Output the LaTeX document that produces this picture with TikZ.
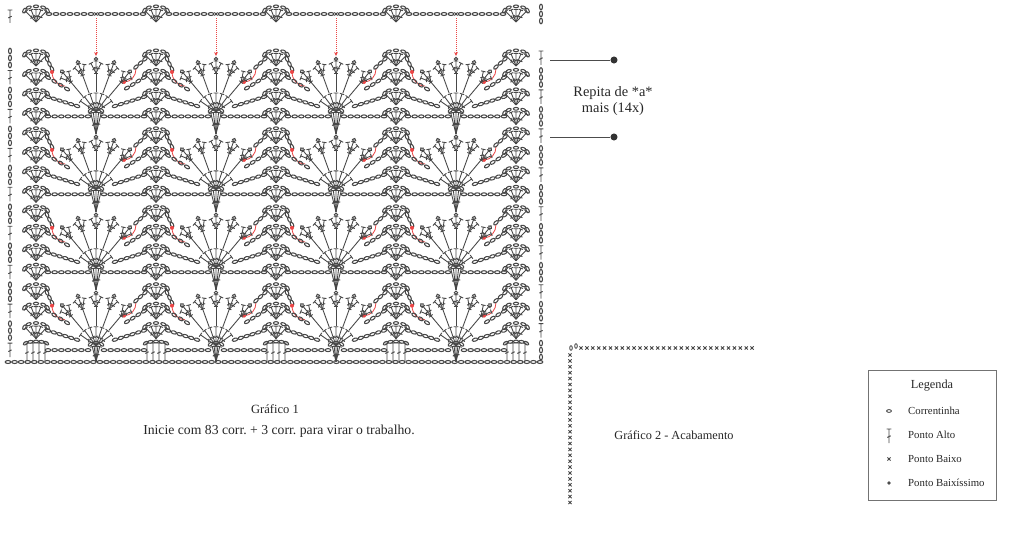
\documentclass[tikz,border=0pt]{standalone}
\usepackage{fontspec}
\setmainfont{Liberation Serif}
\usetikzlibrary{arrows.meta}
\definecolor{stred}{RGB}{236,70,70}
\frenchspacing
\newcommand\trst[4]{\begin{scope}[shift={(#1,#2)},rotate={#3-90}]
    \draw[stitch] (0,0) -- (0,#4) (-2.3,#4) -- (2.3,#4) (-1.7,{0.5*#4-1.4}) -- (1.7,{0.5*#4+0.2});
  \end{scope}}
\newcommand\xst[2]{\draw[stitch] (#1-1.6,#2-1.6) -- (#1+1.6,#2+1.6) (#1-1.6,#2+1.6) -- (#1+1.6,#2-1.6);}
\newcommand\chn[4]{%
  \pgfmathsetmacro\cdx{(#3)-(#1)}%
  \pgfmathsetmacro\cdy{(#4)-(#2)}%
  \pgfmathsetmacro\clen{veclen(\cdx,\cdy)}%
  \pgfmathtruncatemacro\cn{max(1,round(\clen/6.6))}%
  \pgfmathsetmacro\cang{atan2(\cdy,\cdx)}%
  \foreach \ci in {0,...,\cn}{%
    \draw[chain,shift={({#1+\ci/\cn*\cdx},{#2+\ci/\cn*\cdy})},rotate=\cang] (0,0) ellipse[x radius=2.8,y radius=1.5];}}
\newcommand\archn[5]{%
  \foreach \ct in {#5}{%
    \pgfmathsetmacro\cax{#1+#3*cos(\ct)}%
    \pgfmathsetmacro\cay{#2+#4*sin(\ct)}%
    \pgfmathsetmacro\caa{atan2(#4*cos(\ct),-#3*sin(\ct))}%
    \draw[chain,shift={(\cax,\cay)},rotate=\caa] (0,0) ellipse[x radius=2.6,y radius=1.4];}}
\newcommand\shellst[3]{\begin{scope}[shift={(#1,#2)}]
    \foreach \ta/\tl in {134/14.5,112/13,90/12.5,68/13,46/14.5}{\trst{0}{-10}{\ta}{\tl}}
    \archn{0}{0}{#3}{5.6}{165,127.5,90,52.5,15}
  \end{scope}}
\newcommand\conest[3]{\begin{scope}[shift={(#1,#2)}]
    \foreach \ta in {104,97,90,83,76}{\trst{0}{-#3}{\ta}{#3-0.5}}
    \archn{0}{0}{6.5}{3}{150,90,30}
  \end{scope}}
\newcommand\fanst[2]{\begin{scope}[shift={(#1,#2)}]
    \foreach \ta in {35,53,71.5,90,108.5,127,145}{\trst{0}{0}{\ta}{19}}
    \foreach \ta in {50,70,90,110,130}{
      \begin{scope}[rotate=\ta-90]
        \draw[stitch] (0,20) -- (0,39) (-2.2,39) -- (2.2,39);
        \trst{0}{39}{62}{11}\trst{0}{39}{90}{12}\trst{0}{39}{118}{11}
        \draw[chain] (0,53) circle[radius=1.7];
      \end{scope}}
  \end{scope}}
\begin{document}
\begin{tikzpicture}[x=0.03cm,y=0.03cm,
    stitch/.style={draw=black!72,line width=0.75pt},
    chain/.style={draw=black!72,line width=0.9pt},
    redln/.style={draw=stred,line width=0.7pt},
    reddot/.style={fill=stred},
    redarr/.style={draw=stred,densely dotted,line width=0.7pt,-{Stealth[length=3.5pt,width=3.2pt]}},
    repdot/.style={circle,fill=black!80,inner sep=0pt,minimum size=6pt},
    lbl/.style={text=black!85,inner sep=0pt}]
  \useasboundingbox (0,0) rectangle (1024,-536);

  \trst{10}{-23}{90}{13}
  \chn{541}{-7}{541}{-21}
  \foreach \cl in {0,...,4}{
    \pgfmathsetmacro\sx{36+120*\cl}
    \shellst{\sx}{-12}{12}
  }
  \foreach \cl in {0,...,3}{
    \pgfmathsetmacro\sx{36+120*\cl}
    \pgfmathsetmacro\fx{96+120*\cl}
    \chn{\sx+13}{-14}{\fx-5}{-14}
    \chn{\fx+5}{-14}{\sx+107}{-14}
    \xst{\fx}{-14}
    \coordinate (sc\cl) at (\fx,-18);
    \coordinate (pc\cl) at (\fx,-56);
    \draw[redarr] (sc\cl) -- (pc\cl);
  }

  \foreach \bk in {0,...,3}{
    \pgfmathsetmacro\yo{-(58+77.9*\bk)}
    \foreach \jr in {0,...,3}{
      \pgfmathsetmacro\yr{\yo-19.47*\jr}
      \pgfmathtruncatemacro\rw{4*\bk+\jr}
      \foreach \cl in {0,...,4}{
        \pgfmathsetmacro\sx{36+120*\cl}
        \ifnum\rw=15\relax
          \foreach \dd in {-9,-3,3,9}{\trst{\sx+\dd}{-361}{90}{18}}
          \archn{\sx}{-344}{11}{2.5}{160,120,90,60,20}
        \else
          \shellst{\sx}{\yr+2}{12}
        \fi
      }
      \ifodd\rw\relax
        \trst{10}{\yr-7}{90}{14}
        \chn{541}{\yr+7}{541}{\yr-7}
      \else
        \chn{10}{\yr+7}{10}{\yr-7}
        \trst{541}{\yr-7}{90}{14}
      \fi
    }
    \pgfmathsetmacro\cd{\bk==3 ? 16 : 22}
    \foreach \cl in {0,...,3}{
      \pgfmathsetmacro\sx{36+120*\cl}
      \pgfmathsetmacro\fx{96+120*\cl}
      \pgfmathsetmacro\sxn{156+120*\cl}
      \chn{\sx+11}{\yo-1}{\sx+16}{\yo-11}
      \draw[redln] (\sx+16,\yo-14) to[out=-90,in=180] (\fx-31,\yo-28);
      \fill[reddot] (\sx+16,\yo-14) circle[radius=2];
      \draw[redln] (\fx+28,\yo-24) to[out=0,in=-90] (\fx+40,\yo-11);
      \fill[reddot] (\fx+28,\yo-24) circle[radius=2];
      \chn{\fx+40}{\yo-9}{\sxn-11}{\yo-1}
      \chn{\sx+12}{\yo-19.5}{\fx-29}{\yo-31}
      \chn{\fx+31}{\yo-30}{\sxn-12}{\yo-19.5}
      \chn{\sx+12}{\yo-38.9}{\fx-19}{\yo-48}
      \chn{\fx+19}{\yo-48}{\sxn-12}{\yo-38.9}
      \chn{\sx+12}{\yo-58.4}{\fx-8}{\yo-58.4}
      \chn{\fx+8}{\yo-58.4}{\sxn-12}{\yo-58.4}
      \fanst{\fx}{\yo-54}
      \conest{\fx}{\yo-54}{\cd}
    }
  }
  \chn{8}{-362}{540}{-362}

  \coordinate (ra1) at (550,-60);
  \node[repdot] (rd1) at (614,-60) {};
  \draw[black!70,line width=0.7pt] (ra1) -- (rd1);
  \coordinate (ra2) at (550,-137);
  \node[repdot] (rd2) at (614,-137) {};
  \draw[black!70,line width=0.7pt] (ra2) -- (rd2);
  \node[lbl,align=center,font=\fontsize{12.3}{13}\selectfont] (rep) at (613,-101) {Repita de *a*\\mais (14x)};

  \node[lbl,font=\fontsize{10.7}{13}\selectfont] (graf1) at (275,-409) {Gráfico 1};
  \node[lbl,font=\fontsize{11.7}{14}\selectfont] (graf1n) at (279,-431) {Inicie com 83 corr. + 3 corr. para virar o trabalho.};

  \draw[stitch] (571,-348) ellipse[x radius=1.3,y radius=2.3];
  \draw[stitch] (576,-346) ellipse[x radius=1.3,y radius=2.3];
  \foreach \ci in {0,...,29}{\xst{581+5.9*\ci}{-348}}
  \foreach \ci in {0,...,25}{\xst{570}{-355-5.9*\ci}}
  \node[lbl,font=\fontsize{10.5}{12}\selectfont] (graf2) at (674,-435) {Gráfico 2 - Acabamento};

  \draw[black!55,line width=0.5pt] (868,-370) rectangle (996,-500);
  \node[lbl,font=\fontsize{10.5}{12}\selectfont] (leg) at (932,-386) {Legenda};
  \draw[stitch] (889,-411) ellipse[x radius=2.4,y radius=1.4];
  \trst{889}{-443}{90}{14}
  \xst{889}{-459}
  \fill[black!70] (889,-483) circle[radius=1.8];
  \node[lbl,anchor=west,font=\fontsize{9.2}{11}\selectfont] (lcor) at (908,-411) {Correntinha};
  \node[lbl,anchor=west,font=\fontsize{9.2}{11}\selectfont] (lalto) at (908,-435) {Ponto Alto};
  \node[lbl,anchor=west,font=\fontsize{9.2}{11}\selectfont] (lbaixo) at (908,-459) {Ponto Baixo};
  \node[lbl,anchor=west,font=\fontsize{9.2}{11}\selectfont] (lbxs) at (908,-483) {Ponto Baixíssimo};
\end{tikzpicture}
\end{document}
